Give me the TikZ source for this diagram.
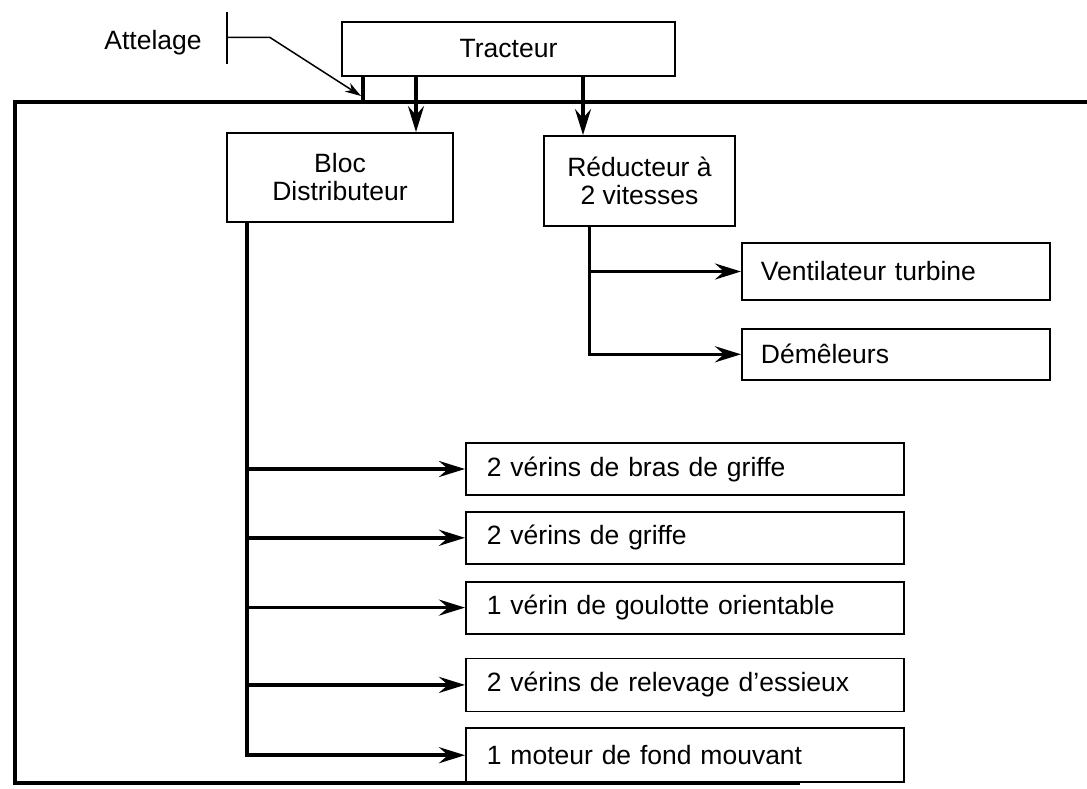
\documentclass[tikz,border=0pt]{standalone}
\usepackage{fontspec}
\setmainfont{Liberation Sans}
\usepackage{tikz}
\usetikzlibrary{arrows.meta,positioning}

\begin{document}
\begin{tikzpicture}[
    x=1pt, y=-1pt,
    box/.style={rectangle, draw, line width=1.8pt, inner sep=0pt, align=center, font=\fontsize{26.5}{28}\selectfont},
    item/.style={box, anchor=west, inner xsep=21pt, text width=396pt, minimum height=52pt, align=left},
    fanitem/.style={item, inner xsep=19pt, text width=270pt},
    feed/.style={line width=3.6pt, -{Stealth[length=26pt,width=16pt,inset=9pt]}},
    trunk/.style={line width=3.6pt},
    frame/.style={line width=4pt},
    pointer/.style={line width=1.5pt, -{Stealth[length=16pt,width=10pt,inset=5pt]}}
]
\useasboundingbox (0,0) rectangle (1087,789);

\node[box, minimum width=333pt, minimum height=54pt] (tracteur) at (508.5,49) {Tracteur};
\node[font=\fontsize{26.5}{28}\selectfont] (attelage) at (153,43) {Attelage};
\node[box, minimum width=226pt, minimum height=89pt] (bloc) at (340,177.5) {Bloc\\Distributeur};
\node[box, minimum width=191pt, minimum height=90pt] (reducteur) at (639.5,181) {Réducteur à\\2 vitesses};
\node[fanitem, minimum height=57pt] (ventil) at (741,271.5) {Ventilateur turbine};
\node[fanitem, minimum height=51pt, below=27pt of ventil] (demeleurs) {Démêleurs};
\node[item] (bras) at (465,469) {2 vérins de bras de griffe};
\node[item, below=15pt of bras] (griffe) {2 vérins de griffe};
\node[item, below=16pt of griffe] (goulotte) {1 vérin de goulotte orientable};
\node[item, below=23pt of goulotte, minimum height=53pt] (relevage) {2 vérins de relevage d'essieux};
\node[item, below=15pt of relevage, minimum height=54pt] (moteur) {1 moteur de fond mouvant};

\coordinate (hitch) at (363,102);
\coordinate (tick) at (227,37.5);
\coordinate (hitchtip) at (361,96);
\coordinate (bdrop) at ([xshift=-93pt]bloc.south);
\coordinate (rdrop) at ([xshift=-50pt]reducteur.south);

\draw[frame] (1087,102) -- (15,102) -- (15,783) -- (800,783);
\draw[line width=1.6pt] (227,12) -- (227,64);
\draw[pointer] (tick) -- ++(43,0) -- (hitchtip);
\draw[trunk] (hitch |- tracteur.south) -- (hitch);
\draw[feed] ([xshift=76pt]bloc.north |- tracteur.south) -- ([xshift=76pt]bloc.north);
\draw[feed] ([xshift=-56.5pt]reducteur.north |- tracteur.south) -- ([xshift=-56.5pt]reducteur.north);

\draw[feed] (rdrop) |- (demeleurs.west);
\draw[feed] (rdrop |- ventil.west) -- (ventil.west);
\draw[feed] (bdrop) |- (moteur.west);
\foreach \n in {bras,griffe,goulotte,relevage}
    \draw[feed] (bdrop |- \n.west) -- (\n.west);
\end{tikzpicture}
\end{document}
